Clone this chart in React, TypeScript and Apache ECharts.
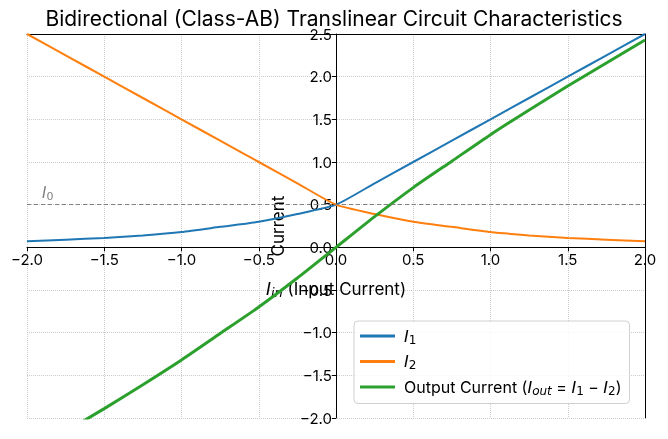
import React, { useRef, useEffect } from 'react';
import * as echarts from 'echarts';

// values
const inputCurrent = [-2, -1.75, -1.5, -1.25, -1, -0.75, -0.5, -0.25, 0, 0.25, 0.5, 0.75, 1, 1.25, 1.5, 1.75, 2];
const currentI1 = [0.07, 0.09, 0.11, 0.14, 0.18, 0.24, 0.3, 0.39, 0.5, 0.75, 1.0, 1.25, 1.5, 1.75, 2.0, 2.25, 2.5];
const currentI2 = [2.5, 2.25, 2.0, 1.75, 1.5, 1.25, 1.0, 0.75, 0.5, 0.39, 0.3, 0.24, 0.18, 0.14, 0.11, 0.09, 0.07];
const outputCurrent = [-2.43, -2.16, -1.89, -1.61, -1.32, -1.01, -0.7, -0.36, 0, 0.36, 0.7, 1.01, 1.32, 1.61, 1.89, 2.16, 2.43];
const biasCurrent = 0.5;

const X_MIN = -2;
const X_MAX = 2;
const Y_MIN = -2;
const Y_MAX = 2.5;

const FONT = 'Inter';
const W = 668;
const H = 439;
const GRID = { left: 27, right: 23, top: 34, bottom: 21 };

const fmt = (v: number) => v.toFixed(1).replace('-', '\u2212');

const makeRich = (size: number) => ({
  n: { fontFamily: FONT, fontSize: size, color: '#000' },
  i: { fontFamily: 'DejaVu Sans', fontStyle: 'italic' as const, fontSize: size, color: '#000' },
  s: { fontFamily: 'DejaVu Sans', fontStyle: 'italic' as const, fontSize: size - 4, color: '#000', verticalAlign: 'bottom' as const, padding: [7, 0, 0, 0] },
  d: { fontFamily: 'DejaVu Sans', fontSize: size - 4, color: '#000', verticalAlign: 'bottom' as const, padding: [7, 0, 0, 0] },
});

const App: React.FC = () => {
  const chartRef = useRef<HTMLDivElement>(null);

  useEffect(() => {
    if (!chartRef.current) return;
    const chart = echarts.init(chartRef.current, undefined, { renderer: 'svg' });

    const pairs = (ys: number[]) => inputCurrent.map((x, k) => [x, ys[k]]);
    const gridLine = { show: true, lineStyle: { color: '#cccccc', type: 'dotted' as const, width: 1 } };

    // spines crossing at zero, like matplotlib's set_position('zero')
    const plotW = W - GRID.left - GRID.right;
    const plotH = H - GRID.top - GRID.bottom;
    const yAxisOffset = -plotW * (0 - X_MIN) / (X_MAX - X_MIN);
    const xAxisOffset = -plotH * (0 - Y_MIN) / (Y_MAX - Y_MIN);

    const option: echarts.EChartsOption = {
      animation: false,
      textStyle: { fontFamily: FONT },
      title: {
        text: 'Bidirectional (Class-AB) Translinear Circuit Characteristics',
        left: 'center',
        top: 3,
        textStyle: { fontFamily: FONT, fontSize: 21, fontWeight: 'normal', color: '#000' },
      },
      grid: { ...GRID, containLabel: false, outerBoundsMode: 'none' } as any,
      xAxis: [
        {
          type: 'value',
          min: X_MIN,
          max: X_MAX,
          interval: 0.5,
          offset: xAxisOffset,
          axisLine: { onZero: false, lineStyle: { color: '#000', width: 1 } },
          axisTick: { show: true, length: 4, lineStyle: { color: '#000' } },
          axisLabel: { color: '#000', fontSize: 15, margin: 5, formatter: fmt },
          splitLine: gridLine,
          name: '{i|I}{s|in}{n| (Input Current)}',
          nameLocation: 'middle',
          nameGap: 32,
          nameTextStyle: { rich: makeRich(17) },
        },
        {
          type: 'value',
          position: 'top',
          min: X_MIN,
          max: X_MAX,
          axisLine: { onZero: false, lineStyle: { color: '#000', width: 1 } },
          axisTick: { show: false },
          axisLabel: { show: false },
          splitLine: { show: false },
        },
      ],
      yAxis: [
        {
          type: 'value',
          min: Y_MIN,
          max: Y_MAX,
          interval: 0.5,
          offset: yAxisOffset,
          axisLine: { onZero: false, lineStyle: { color: '#000', width: 1 } },
          axisTick: { show: true, length: 4, lineStyle: { color: '#000' } },
          axisLabel: { color: '#000', fontSize: 15, margin: 4, formatter: fmt },
          splitLine: gridLine,
          name: 'Current',
          nameLocation: 'middle',
          nameGap: 50,
          nameRotate: 90,
          nameTextStyle: { color: '#000', fontSize: 17, fontFamily: FONT },
        },
        {
          type: 'value',
          position: 'right',
          min: Y_MIN,
          max: Y_MAX,
          axisLine: { onZero: false, lineStyle: { color: '#000', width: 1 } },
          axisTick: { show: false },
          axisLabel: { show: false },
          splitLine: { show: false },
        },
      ],
      legend: {
        orient: 'vertical',
        left: 354,
        top: 321,
        padding: [7, 8, 7, 6],
        itemGap: 8,
        itemWidth: 35,
        itemHeight: 3,
        icon: 'rect',
        borderColor: '#d0d0d0',
        borderWidth: 1,
        borderRadius: 4,
        backgroundColor: 'rgba(255,255,255,0.85)',
        data: ['I1', 'I2', 'Iout'],
        formatter: (name: string) => {
          if (name === 'I1') return '{i|I}{d|1}';
          if (name === 'I2') return '{i|I}{d|2}';
          return '{n|Output Current (}{i|I}{s|out}{n| = }{i|I}{d|1}{n| \u2212 }{i|I}{d|2}{n|)}';
        },
        textStyle: { rich: makeRich(16), padding: [0, 0, 0, 4] },
      },
      series: [
        {
          name: 'I1',
          type: 'line',
          data: pairs(currentI1),
          smooth: 0.2,
          showSymbol: false,
          lineStyle: { color: '#1f77b4', width: 2 },
          itemStyle: { color: '#1f77b4' },
          z: 3,
          markLine: {
            silent: true,
            symbol: 'none',
            data: [{ yAxis: biasCurrent }],
            lineStyle: { color: '#808080', type: [4, 3], width: 1 },
            label: {
              position: 'insideStartTop',
              formatter: '{g|I}{h|0}',
              distance: [15, 3],
              rich: {
                g: { fontFamily: 'DejaVu Sans', fontStyle: 'italic', fontSize: 15, color: '#808080' },
                h: { fontFamily: 'DejaVu Sans', fontSize: 11, color: '#808080', verticalAlign: 'bottom', padding: [6, 0, 0, 0] },
              },
            },
          },
        },
        {
          name: 'I2',
          type: 'line',
          data: pairs(currentI2),
          smooth: 0.2,
          showSymbol: false,
          lineStyle: { color: '#ff7f0e', width: 2 },
          itemStyle: { color: '#ff7f0e' },
          z: 3,
        },
        {
          name: 'Iout',
          type: 'line',
          data: pairs(outputCurrent),
          smooth: 0.2,
          showSymbol: false,
          lineStyle: { color: '#2ca02c', width: 3 },
          itemStyle: { color: '#2ca02c' },
          z: 3,
        },
      ],
    };

    chart.setOption(option);
    return () => chart.dispose();
  }, []);

  return <div ref={chartRef} style={{ position: 'fixed', left: 0, top: 0, width: W, height: H }} />;
};

export default App;
